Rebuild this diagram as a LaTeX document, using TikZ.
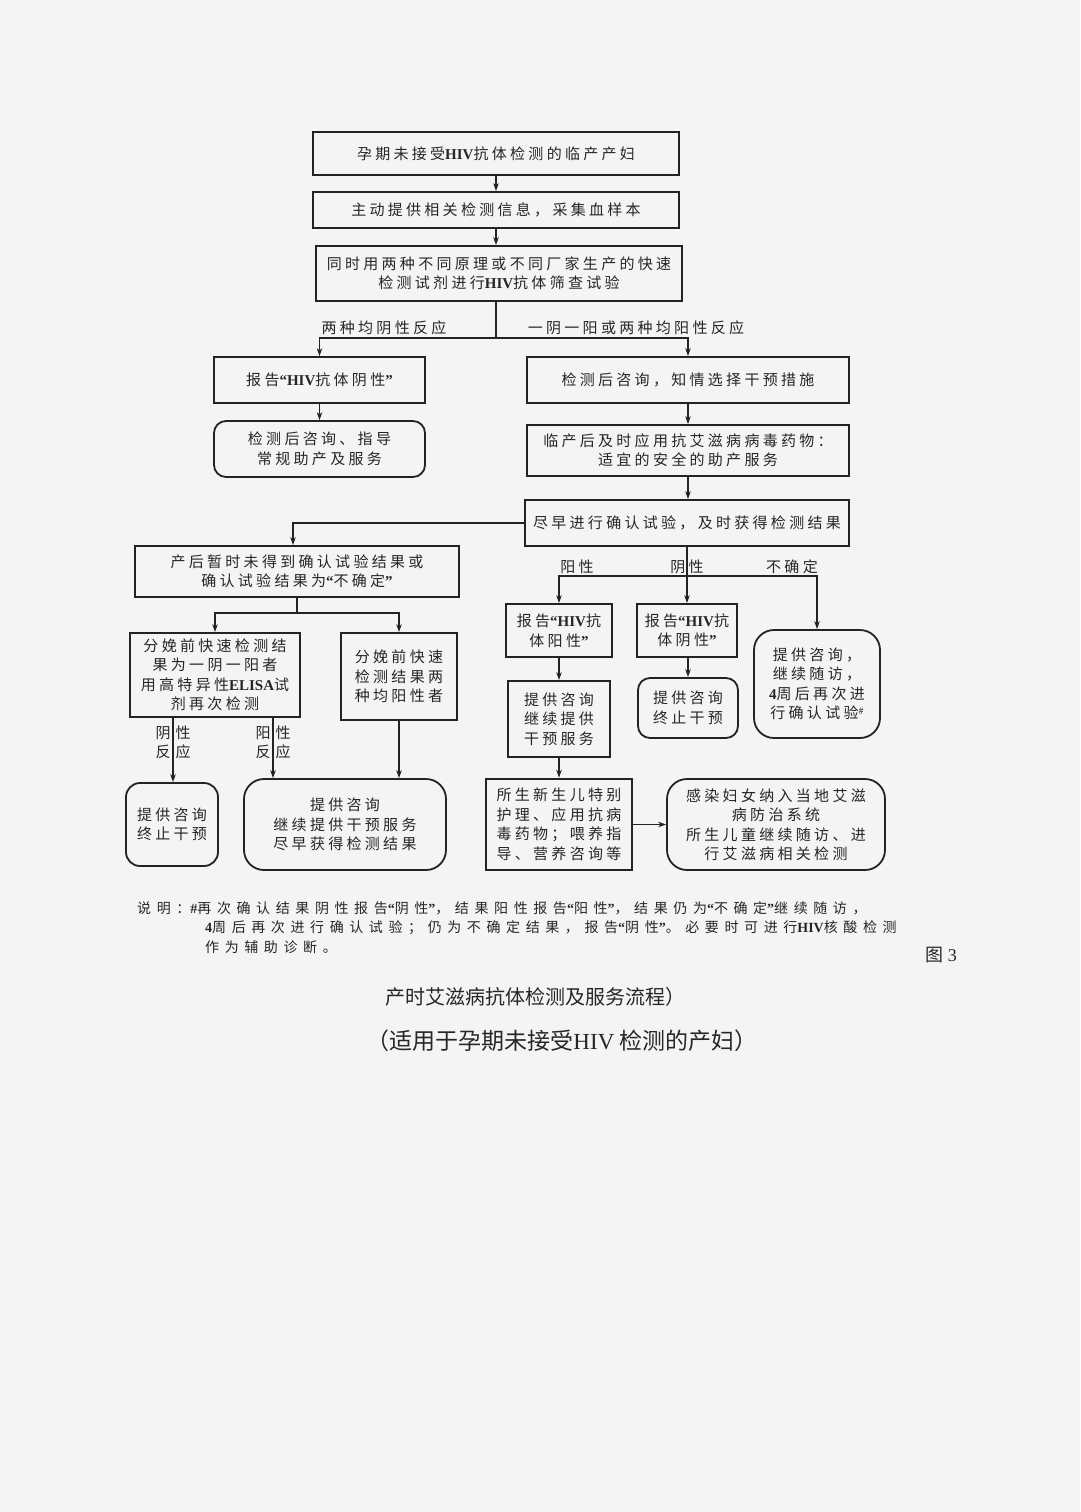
\documentclass[tikz,border=0pt]{standalone}
\usepackage{fontspec}
\setmainfont{Noto Sans CJK SC}
\newfontfamily\cjk[LetterSpace=22]{Noto Sans CJK SC}
\newfontfamily\cjknote[LetterSpace=40]{Noto Sans CJK SC}
\newfontfamily\cjkplain{Noto Sans CJK SC}
\newfontfamily\lat{Liberation Serif}
\newcommand\Lb[1]{{\lat\bfseries #1}}
\newcommand\qo{{\lat\bfseries “}}
\newcommand\qc{{\lat\bfseries ”}}
\newcommand\bx{\cjk\fontsize{15}{19.5}\selectfont}
\newcommand\nt{\cjknote\fontsize{14}{19.5}\selectfont}
\usetikzlibrary{arrows.meta}
\definecolor{bg}{RGB}{244,244,244}
\definecolor{lc}{RGB}{35,35,35}
\definecolor{tc}{RGB}{38,38,38}
\tikzset{
  box/.style={draw=lc, line width=1.8pt, align=center, inner sep=0pt, font=\bx, text=tc},
  rbox/.style={box, rounded corners=14pt},
  arr/.style={draw=lc, line width=1.4pt, -{Stealth[length=8pt,width=5.5pt]}},
  ln/.style={draw=lc, line width=1.4pt},
  lab/.style={font=\bx, text=tc, inner sep=0pt, align=center},
  note/.style={font=\nt, text=tc, inner sep=0pt, anchor=west},
}
\begin{document}
\begin{tikzpicture}[x=1pt,y=-1pt]
\fill[bg] (0,0) rectangle (1080,1512);
\useasboundingbox (0,0) rectangle (1080,1512);

% top chain
\node[box, line width=2.2pt, minimum width=366pt, minimum height=43pt] (b1) at (496,153.5) {孕期未接受\Lb{HIV}抗体检测的临产产妇};
\node[box, minimum width=366pt, minimum height=36pt] (b2) at (496,210) {主动提供相关检测信息，采集血样本};
\node[box, minimum width=366pt, minimum height=55pt] (b3) at (499,273.5) {同时用两种不同原理或不同厂家生产的快速\\检测试剂进行\Lb{HIV}抗体筛查试验};

% second level
\node[box, minimum width=211pt, minimum height=46pt] (b4) at (319.5,380) {报告\qo\Lb{HIV}抗体阴性\qc};
\node[rbox, rounded corners=12pt, minimum width=211pt, minimum height=56pt] (b5) at (319.5,449) {检测后咨询、指导\\常规助产及服务};
\node[box, minimum width=322pt, minimum height=46pt] (b6) at (688,380) {检测后咨询，知情选择干预措施};
\node[box, minimum width=322pt, minimum height=51pt] (b7) at (688,450.5) {临产后及时应用抗艾滋病病毒药物：\\适宜的安全的助产服务};
\node[box, minimum width=324pt, minimum height=46pt] (b8) at (687,523) {尽早进行确认试验，及时获得检测结果};

% left branch
\node[box, minimum width=324pt, minimum height=51pt] (b9) at (297,571.5) {产后暂时未得到确认试验结果或\\确认试验结果为\qo 不确定\qc};
\node[box, minimum width=170pt, minimum height=84pt] (b10) at (215,675) {分娩前快速检测结\\果为一阴一阳者\\用高特异性\Lb{ELISA}试\\剂再次检测};
\node[box, minimum width=116pt, minimum height=87pt] (b11) at (399,676.5) {分娩前快速\\检测结果两\\种均阳性者};
\node[rbox, minimum width=92pt, minimum height=83pt] (b12) at (172,824.5) {提供咨询\\终止干预};
\node[rbox, rounded corners=20pt, minimum width=202pt, minimum height=91pt] (b13) at (345,824.5) {提供咨询\\继续提供干预服务\\尽早获得检测结果};

% right branch
\node[box, minimum width=106pt, minimum height=53pt] (b14) at (559,630.5) {报告\qo\Lb{HIV}抗\\体阳性\qc};
\node[box, minimum width=100pt, minimum height=53pt] (b15) at (687,630.5) {报告\qo\Lb{HIV}抗\\体阴性\qc};
\node[rbox, rounded corners=20pt, minimum width=126pt, minimum height=108pt] (b16) at (817,684) {提供咨询，\\继续随访，\\\Lb{4}周后再次进\\行确认试验\raisebox{0.6ex}{\fontsize{9}{9}\selectfont\#}};
\node[box, minimum width=102pt, minimum height=76pt] (b17) at (559,719) {提供咨询\\继续提供\\干预服务};
\node[rbox, rounded corners=12pt, minimum width=100pt, minimum height=60pt] (b18) at (688,708) {提供咨询\\终止干预};
\node[box, line width=2.6pt, minimum width=146pt, minimum height=91pt] (b19) at (559,824.5) {所生新生儿特别\\护理、应用抗病\\毒药物；喂养指\\导、营养咨询等};
\node[rbox, rounded corners=20pt, minimum width=218pt, minimum height=91pt] (b20) at (776,824.5) {感染妇女纳入当地艾滋\\病防治系统\\所生儿童继续随访、进\\行艾滋病相关检测};

% connectors top
\draw[arr] (b1.south) -- (b2.north);
\draw[arr] (b2.south) -- (b2.south |- b3.north);
\coordinate (j1) at (496,338);
\draw[ln] (b3.south -| j1) -- (j1);
\draw[arr] (j1) -| (b4.north);
\draw[arr] (j1) -| (b6.north);
\node[lab] (l1) at (384,328) {两种均阴性反应};
\node[lab] (l2) at (636,328) {一阴一阳或两种均阳性反应};
\draw[arr] (b4.south) -- (b5.north);
\draw[arr] (b6.south) -- (b7.north);
\draw[arr] (b7.south) -- (b7.south |- b8.north);

% left branch connectors
\coordinate (c9) at (293,523);
\draw[arr] (b8.west) -- (c9) -- (c9 |- b9.north);
\coordinate (j2) at (297,613);
\draw[ln] (b9.south) -- (j2);
\draw[arr] (j2) -| (b10.north);
\draw[arr] (j2) -| (b11.north);
\coordinate (c10a) at (173,717);
\coordinate (c10b) at (273,717);
\draw[arr] (c10a) -- (c10a |- b12.north);
\draw[arr] (c10b) -- (c10b |- b13.north);
\draw[arr] (b11.south) -- (b11.south |- b13.north);
\node[lab] (l3a) at (163,742.5) {阴\\反};
\node[lab] (l3b) at (183,742.5) {性\\应};
\node[lab] (l4a) at (263,742.5) {阳\\反};
\node[lab] (l4b) at (283,742.5) {性\\应};

% right branch connectors
\coordinate (j3) at (687,576);
\draw[ln] (b8.south) -- (j3);
\draw[arr] (j3) -| (b14.north);
\draw[arr] (j3) -- (b15.north);
\draw[arr] (j3) -| (b16.north);
\node[lab] (l5) at (577,567) {阳性};
\node[lab] (l6) at (687,567) {阴性};
\node[lab] (l7) at (792,567) {不确定};
\draw[arr] (b14.south) -- (b17.north);
\draw[arr] (b15.south -| b18.north) -- (b18.north);
\draw[arr] (b17.south) -- (b19.north);
\draw[arr] (b19.east) -- (b20.west);

% note
\node[note] (n1) at (137,908) {说明：\Lb{\#}再次确认结果阴性报告\qo 阴性\qc，结果阳性报告\qo 阳性\qc，结果仍为\qo 不确定\qc 继续随访，};
\node[note] (n2) at (205,928) {\Lb{4}周后再次进行确认试验；仍为不确定结果，报告\qo 阴性\qc。必要时可进行\Lb{HIV}核酸检测};
\node[note] (n3) at (205,947) {作为辅助诊断。};
\node[font=\cjkplain\fontsize{18}{20}\selectfont, text=tc, inner sep=0pt] (fig) at (941,955) {图{\lat\ 3}};

% titles
\node[font=\cjkplain\fontsize{20}{22}\selectfont, text=tc, inner sep=0pt] (t1) at (535,997) {产时艾滋病抗体检测及服务流程）};
\node[font=\cjkplain\fontsize{23}{26}\selectfont, text=tc, inner sep=0pt] (t2) at (562,1041) {（适用于孕期未接受{\lat HIV} 检测的产妇）};
\end{tikzpicture}
\end{document}
